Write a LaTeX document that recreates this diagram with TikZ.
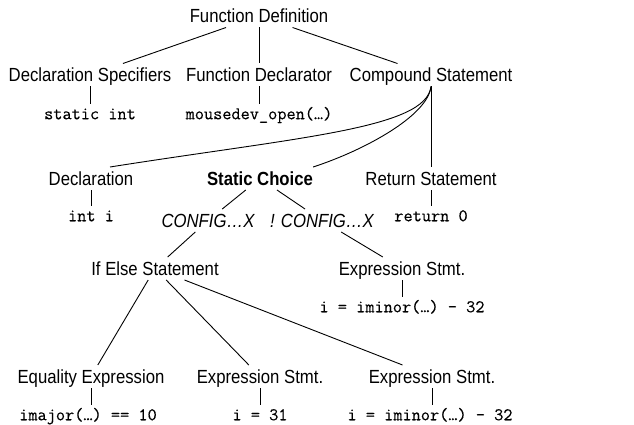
\documentclass[tikz,border=0pt]{standalone}
\usepackage{fontspec}
\setmainfont[FakeStretch=0.88]{Liberation Sans}
\setmonofont[FakeBold=0.3]{Latin Modern Mono}
\begin{document}
\begin{tikzpicture}[x=1pt,y=-1pt,
  every node/.style={inner xsep=4pt,inner ysep=4.5pt},
  lbl/.style={font=\fontsize{19}{21}\selectfont, text height=13.6pt, text depth=0pt},
  bold/.style={lbl, font=\fontsize{19}{21}\selectfont\bfseries},
  cond/.style={lbl, font=\fontsize{19}{21}\selectfont\itshape},
  code/.style={font=\fontsize{17.8}{20}\ttfamily\selectfont, text height=10.5pt, text depth=0pt, inner ysep=5pt},
  edge/.style={line width=0.9pt}]
\useasboundingbox (0,0) rectangle (634,425);

% top level
\node[lbl] (fd) at (259,16) {Function Definition};
\node[lbl] (ds) at (90,75) {Declaration Specifiers};
\node[lbl] (fdecl) at (259,75) {Function Declarator};
\node[lbl] (cs) at (431,75) {Compound Statement};
\node[code] (si) at (90,114) {static int};
\node[code] (mo) at (259,114) {mousedev\_open(…)};

% body of the compound statement
\node[lbl] (decl) at (91,178.5) {Declaration};
\node[bold] (sc) at (260,178.5) {Static Choice};
\node[lbl] (rs) at (431,178.5) {Return Statement};
\node[code] (ii) at (91,216) {int i};
\node[code] (r0) at (431,216) {return 0};

% the two branches of the static choice
\node[cond] (c1) at (208,220.5) {CONFIG…X};
\node[cond] (c2) at (322,220.5) {! CONFIG…X};
\node[lbl] (ie) at (155,268.5) {If Else Statement};
\node[lbl] (es) at (402,268.5) {Expression Stmt.};
\node[code] (esc) at (402,307) {i = iminor(…) - 32};

% if/else children
\node[lbl] (eq) at (91,376.5) {Equality Expression};
\node[lbl] (es1) at (260,376.5) {Expression Stmt.};
\node[lbl] (es2) at (432,376.5) {Expression Stmt.};
\node[code] (eqc) at (88,415) {imajor(…) == 10};
\node[code] (es1c) at (260,415) {i = 31};
\node[code] (es2c) at (430,415) {i = iminor(…) - 32};

\begin{scope}[edge]
  \draw (fd) -- (ds);
  \draw (fd) -- (fdecl);
  \draw (fd) -- (cs);
  \draw (ds) -- (si);
  \draw (fdecl) -- (mo);
  \draw (cs.south) .. controls +(-5,42) and +(190,-30) .. ([xshift=19pt]decl.north);
  \draw (cs.south) .. controls +(-3,29) and +(52,-17) .. ([xshift=-4pt]sc.north east);
  \draw (cs) -- (rs);
  \draw (decl) -- (ii);
  \draw (rs) -- (r0);
  \draw (sc) -- (c1);
  \draw (sc) -- (c2);
  \draw (c1) -- (ie);
  \draw (c2) -- (es);
  \draw (es) -- (esc);
  \draw (ie) -- (eq);
  \draw (ie) -- (es1);
  \draw (ie) -- (es2);
  \draw (eq.south) -- (eq.south |- eqc.north);
  \draw (es1) -- (es1c);
  \draw (es2.south) -- (es2.south |- es2c.north);
\end{scope}
\end{tikzpicture}
\end{document}
